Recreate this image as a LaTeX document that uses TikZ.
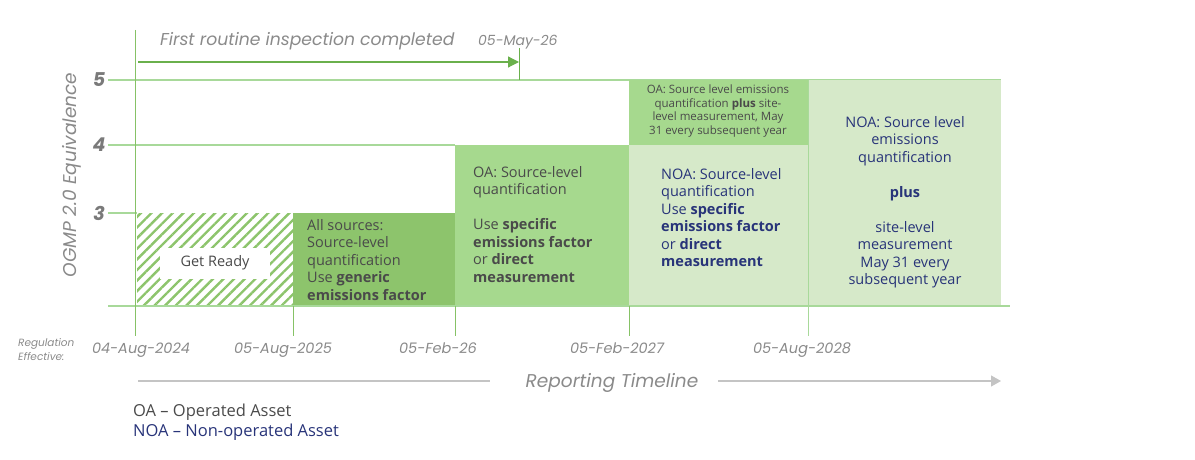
\documentclass[tikz,border=0pt]{standalone}
\usepackage{fontspec}
\setmainfont{Open Sans}
\newfontfamily\axisfont{Poppins}
\usetikzlibrary{arrows.meta,positioning,patterns.meta}

\definecolor{darkbox}{HTML}{8DC46C}
\definecolor{midbox}{HTML}{A6D98E}
\definecolor{lightbox}{HTML}{D6E9C9}
\definecolor{gridgreen}{HTML}{A8D99A}
\definecolor{axisgreen}{HTML}{86C266}
\definecolor{arrowgreen}{HTML}{6AB04C}
\definecolor{oagray}{HTML}{4A4A4A}
\definecolor{noablue}{HTML}{283479}
\definecolor{labelgray}{HTML}{8A8A8A}
\definecolor{levelgray}{HTML}{7A7A7A}
\definecolor{linegray}{HTML}{C4C4C4}

\begin{document}
\begin{tikzpicture}[x=1pt,y=-1pt,
    grid/.style={draw=gridgreen,line width=1.3pt},
    tick/.style={draw=axisgreen,line width=1pt},
    boxtext/.style={align=left,inner sep=0pt,font=\fontsize{14.5}{17.5}\selectfont,text=oagray},
    date/.style={anchor=base,inner sep=0pt,font=\axisfont\itshape\fontsize{14.5}{16}\selectfont,text=labelgray},
    level/.style={inner sep=0pt,font=\axisfont\bfseries\itshape\fontsize{19}{20}\selectfont,text=levelgray}]
    \useasboundingbox (0,0) rectangle (1195,460);

    % grid and axis
    \draw[grid] (108,80) -- (1001,80);
    \draw[grid] (108,145) -- (455,145);
    \draw[grid] (108,213) -- (137,213);
    \fill[pattern={Lines[angle=45,distance=7.5pt,line width=2.4pt]},pattern color=darkbox] (137,213) rectangle (293,306);
    \fill[darkbox] (293,213) rectangle (455,306);
    \fill[midbox] (455,145) rectangle (629,306);
    \fill[midbox] (629,80) rectangle (808,145);
    \fill[lightbox] (629,145) rectangle (808,306);
    \fill[lightbox] (808,80) rectangle (1001,306);
    \draw[grid] (108,306) -- (1010,306);
    \draw[tick] (135,30) -- (135,336);
    \foreach \x in {293,455,629} \draw[tick] (\x,306) -- (\x,336);
    \draw[draw=gridgreen,line width=1pt] (808,80) -- (808,336);

    \node[level] (five) at (99,80) {5};
    \node[level] (four) at (99,145) {4};
    \node[level] (three) at (99,213) {3};
    \node[rotate=90,inner sep=0pt,font=\axisfont\itshape\fontsize{18.5}{20}\selectfont,text=labelgray] (ytitle) at (72,175) {OGMP 2.0 Equivalence};

    % first inspection
    \node[anchor=base west,inner sep=0pt,font=\axisfont\itshape\fontsize{17.2}{19}\selectfont,text=labelgray] (inspect) at (160,46) {First routine inspection completed};
    \node[anchor=base west,inner sep=0pt,font=\axisfont\itshape\fontsize{14}{16}\selectfont,text=labelgray] (may) at (478,46) {05-May-26};
    \coordinate (istart) at (138,62);
    \coordinate (iend) at (519,62);
    \draw[arrowgreen,line width=1.2pt,-{Triangle[length=11pt,width=11pt]}] (istart) -- (iend);
    \draw[arrowgreen,line width=1pt] (519,48) -- (519,80);

    % boxes text
    \node[fill=white,minimum width=110pt,minimum height=31pt,inner sep=0pt,font=\fontsize{14.5}{17}\selectfont,text=oagray] (ready) at (215,263) {Get Ready};
    \node[boxtext,anchor=base west] (allsrc) at (307,300) {All sources:\\Source-level\\quantification\\Use \textbf{generic}\\\textbf{emissions factor}};
    \node[boxtext,anchor=base west] (oasrc) at (473,282) {OA: Source-level\\quantification\\[17.5pt]Use \textbf{specific}\\\textbf{emissions factor}\\or \textbf{direct}\\\textbf{measurement}};
    \node[boxtext,align=center,anchor=base,font=\fontsize{11.5}{14}\selectfont] (oasite) at (718,135) {OA: Source level emissions\\quantification \textbf{plus} site-\\level measurement, May\\31 every subsequent year};
    \node[boxtext,anchor=base west,text=noablue] (noasrc) at (661,266.5) {NOA: Source-level\\quantification\\Use \textbf{specific}\\\textbf{emissions factor}\\or \textbf{direct}\\\textbf{measurement}};
    \node[boxtext,align=center,anchor=base,text=noablue] (noasite) at (905,284.5) {NOA: Source level\\emissions\\quantification\\[17.5pt]\textbf{plus}\\[17.5pt]site-level\\measurement\\May 31 every\\subsequent year};

    % dates
    \node[anchor=base west,inner sep=0pt,align=left,font=\axisfont\itshape\fontsize{10.5}{14}\selectfont,text=labelgray] (regeff) at (18,360) {Regulation\\Effective:};
    \node[date] (d1) at (141,353) {04-Aug-2024};
    \node[date] (d2) at (283,353) {05-Aug-2025};
    \node[date] (d3) at (438,353) {05-Feb-26};
    \node[date] (d4) at (617,353) {05-Feb-2027};
    \node[date] (d5) at (802,353) {05-Aug-2028};

    % reporting timeline
    \node[anchor=base,inner sep=0pt,font=\axisfont\itshape\fontsize{18.5}{20}\selectfont,text=labelgray] (report) at (612,387) {Reporting Timeline};
    \coordinate (tstart) at (138,381);
    \coordinate (tend) at (1001,381);
    \draw[linegray,line width=1.2pt] (tstart) -- (490,381);
    \draw[linegray,line width=1.2pt,-{Triangle[length=10pt,width=11pt]}] (718,381) -- (tend);

    % legend
    \node[anchor=base west,inner sep=0pt,font=\fontsize{16.5}{18}\selectfont,text=oagray] (oa) at (133,416) {OA – Operated Asset};
    \node[anchor=base west,inner sep=0pt,font=\fontsize{16.5}{18}\selectfont,text=noablue] (noa) at (133,436) {NOA – Non-operated Asset};
\end{tikzpicture}
\end{document}
